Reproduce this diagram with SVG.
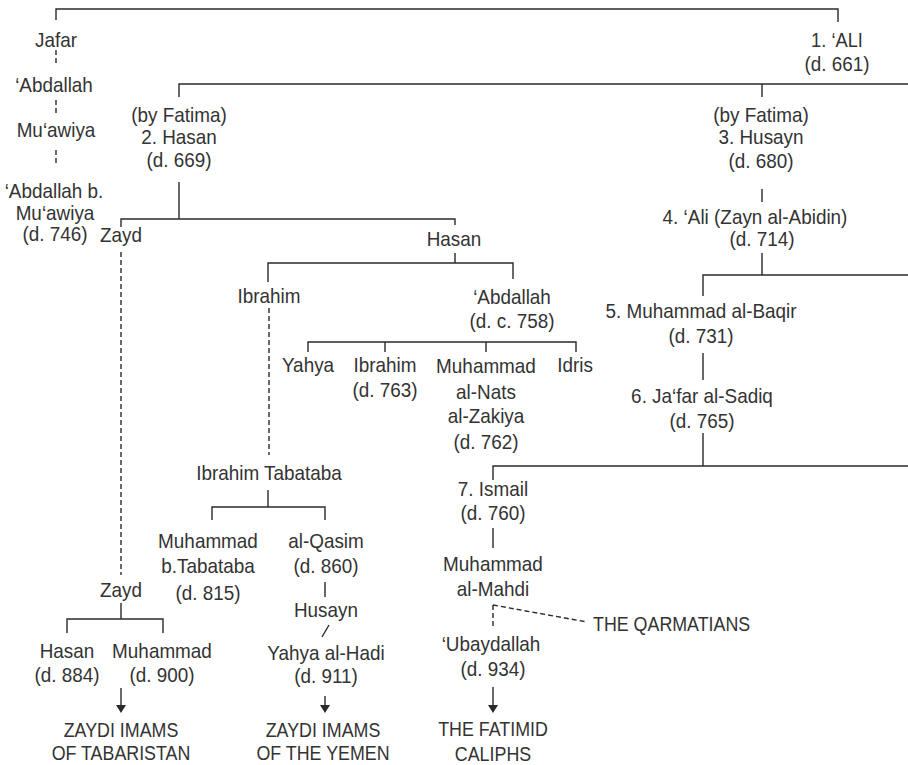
<svg xmlns="http://www.w3.org/2000/svg" width="908" height="765" viewBox="0 0 908 765">
<style>
text{font-family:"Liberation Sans",Arial,sans-serif;font-size:21px;fill:#333;text-anchor:middle}
.l{text-anchor:start}
.c{fill:none;stroke:#2a2a2a;stroke-width:1.4}
.d{stroke-dasharray:5 3}
</style>
<defs>
<marker id="ah" viewBox="0 0 8 10" markerWidth="8" markerHeight="10" refX="0" refY="5" orient="auto" markerUnits="userSpaceOnUse">
<path d="M0,0 L8,5 L0,10 z" fill="#2a2a2a"/>
</marker>
</defs>
<rect width="908" height="765" fill="#fff"/>
<g id="connectors">
<path class="c" d="M56,20 V9 H838 V22"/>
<path class="c d" d="M56,50 V65 M56,100 V115 M56,150 V165"/>
<path class="c" d="M179,97 V84 H908 M762,84 V97"/>
<path class="c" d="M179,182 V219 M121,227 V219 H455 V225"/>
<path class="c" d="M455,253 V263 M268,282 V263 H513 V279"/>
<path class="c d" d="M269,308 V455"/>
<path class="c" d="M308,352 V342 H576 V352 M385,342 V352 M486,342 V352"/>
<path class="c d" d="M121,252 V575"/>
<path class="c" d="M268,490 V507 M212,520 V507 H325 V520"/>
<path class="c" d="M325,582 V597 M322,637 L329,625"/>
<path class="c" d="M325,696 V705" marker-end="url(#ah)"/>
<path class="c" d="M121,603 V619 M67,633 V619 H163 V633"/>
<path class="c" d="M121,688 V705" marker-end="url(#ah)"/>
<path class="c" d="M762,189 V202 M762,253 V275 M703,296 V275 H908"/>
<path class="c" d="M703,353 V380 M703,433 V466 M493,480 V466 H908"/>
<path class="c" d="M493,528 V548"/>
<path class="c d" d="M493,605 V627 M493,605 L587,622"/>
<path class="c" d="M493,687 V705" marker-end="url(#ah)"/>
</g>
<g id="jafar"><text transform="translate(56 0) scale(.9 1)" y="47">Jafar</text></g>
<g id="abdallah-1"><text transform="translate(54 0) scale(.9 1)" y="92">‘Abdallah</text></g>
<g id="muawiya-1"><text transform="translate(56 0) scale(.9 1)" y="137">Mu‘awiya</text></g>
<g id="abdallah-b-muawiya">
<text transform="translate(54 0) scale(.9 1)" y="198">‘Abdallah b.</text>
<text transform="translate(55 0) scale(.9 1)" y="220">Mu‘awiya</text>
<text transform="translate(55 0) scale(.9 1)" y="241">(d. 746)</text>
</g>
<g id="ali-1">
<text transform="translate(837 0) scale(.87 1)" y="47">1. ‘ALI</text>
<text transform="translate(837 0) scale(.9 1)" y="71">(d. 661)</text>
</g>
<g id="hasan-2">
<text transform="translate(179 0) scale(.9 1)" y="122">(by Fatima)</text>
<text transform="translate(179 0) scale(.9 1)" y="144">2. Hasan</text>
<text transform="translate(179 0) scale(.9 1)" y="167">(d. 669)</text>
</g>
<g id="husayn-3">
<text transform="translate(761 0) scale(.9 1)" y="122">(by Fatima)</text>
<text transform="translate(761 0) scale(.9 1)" y="144">3. Husayn</text>
<text transform="translate(761 0) scale(.9 1)" y="168">(d. 680)</text>
</g>
<g id="ali-4">
<text transform="translate(755 0) scale(.9 1)" y="224">4. ‘Ali (Zayn al-Abidin)</text>
<text transform="translate(762 0) scale(.9 1)" y="246">(d. 714)</text>
</g>
<g id="zayd-1"><text transform="translate(121 0) scale(.9 1)" y="242">Zayd</text></g>
<g id="hasan"><text transform="translate(454 0) scale(.9 1)" y="246">Hasan</text></g>
<g id="ibrahim-1"><text transform="translate(269 0) scale(.9 1)" y="303">Ibrahim</text></g>
<g id="abdallah-2">
<text transform="translate(512 0) scale(.9 1)" y="304">‘Abdallah</text>
<text transform="translate(512 0) scale(.9 1)" y="328">(d. c. 758)</text>
</g>
<g id="yahya"><text transform="translate(308 0) scale(.9 1)" y="372">Yahya</text></g>
<g id="ibrahim-2">
<text transform="translate(385 0) scale(.9 1)" y="372">Ibrahim</text>
<text transform="translate(385 0) scale(.9 1)" y="397">(d. 763)</text>
</g>
<g id="muhammad-nats">
<text transform="translate(486 0) scale(.9 1)" y="373">Muhammad</text>
<text transform="translate(486 0) scale(.9 1)" y="399">al-Nats</text>
<text transform="translate(486 0) scale(.9 1)" y="423">al-Zakiya</text>
<text transform="translate(486 0) scale(.9 1)" y="449">(d. 762)</text>
</g>
<g id="idris"><text transform="translate(575 0) scale(.9 1)" y="372">Idris</text></g>
<g id="baqir-5">
<text transform="translate(701 0) scale(.9 1)" y="318">5. Muhammad al-Baqir</text>
<text transform="translate(701 0) scale(.9 1)" y="343">(d. 731)</text>
</g>
<g id="sadiq-6">
<text transform="translate(702 0) scale(.9 1)" y="403">6. Ja‘far al-Sadiq</text>
<text transform="translate(702 0) scale(.9 1)" y="428">(d. 765)</text>
</g>
<g id="ismail-7">
<text transform="translate(493 0) scale(.9 1)" y="496">7. Ismail</text>
<text transform="translate(493 0) scale(.9 1)" y="520">(d. 760)</text>
</g>
<g id="muhammad-mahdi">
<text transform="translate(493 0) scale(.9 1)" y="571">Muhammad</text>
<text transform="translate(493 0) scale(.9 1)" y="596">al-Mahdi</text>
</g>
<g id="qarmatians"><text class="l" transform="translate(593 0) scale(.85 1)" y="631">THE QARMATIANS</text></g>
<g id="ubaydallah">
<text transform="translate(491 0) scale(.9 1)" y="651">‘Ubaydallah</text>
<text transform="translate(493 0) scale(.9 1)" y="676">(d. 934)</text>
</g>
<g id="fatimid">
<text transform="translate(493 0) scale(.85 1)" y="736">THE FATIMID</text>
<text transform="translate(493 0) scale(.85 1)" y="761">CALIPHS</text>
</g>
<g id="ibrahim-tabataba"><text transform="translate(269 0) scale(.9 1)" y="480">Ibrahim Tabataba</text></g>
<g id="muhammad-tabataba">
<text transform="translate(208 0) scale(.9 1)" y="548">Muhammad</text>
<text transform="translate(208 0) scale(.9 1)" y="573">b.Tabataba</text>
<text transform="translate(208 0) scale(.9 1)" y="600">(d. 815)</text>
</g>
<g id="qasim">
<text transform="translate(326 0) scale(.9 1)" y="548">al-Qasim</text>
<text transform="translate(326 0) scale(.9 1)" y="573">(d. 860)</text>
</g>
<g id="husayn"><text transform="translate(326 0) scale(.9 1)" y="617">Husayn</text></g>
<g id="yahya-hadi">
<text transform="translate(326 0) scale(.9 1)" y="660">Yahya al-Hadi</text>
<text transform="translate(326 0) scale(.9 1)" y="683">(d. 911)</text>
</g>
<g id="yemen">
<text transform="translate(323 0) scale(.85 1)" y="737">ZAYDI IMAMS</text>
<text transform="translate(323 0) scale(.85 1)" y="760">OF THE YEMEN</text>
</g>
<g id="zayd-2"><text transform="translate(121 0) scale(.9 1)" y="597">Zayd</text></g>
<g id="hasan-884">
<text transform="translate(67 0) scale(.9 1)" y="658">Hasan</text>
<text transform="translate(67 0) scale(.9 1)" y="682">(d. 884)</text>
</g>
<g id="muhammad-900">
<text transform="translate(162 0) scale(.9 1)" y="658">Muhammad</text>
<text transform="translate(162 0) scale(.9 1)" y="682">(d. 900)</text>
</g>
<g id="tabaristan">
<text transform="translate(121 0) scale(.85 1)" y="737">ZAYDI IMAMS</text>
<text transform="translate(121 0) scale(.85 1)" y="760">OF TABARISTAN</text>
</g>
</svg>
